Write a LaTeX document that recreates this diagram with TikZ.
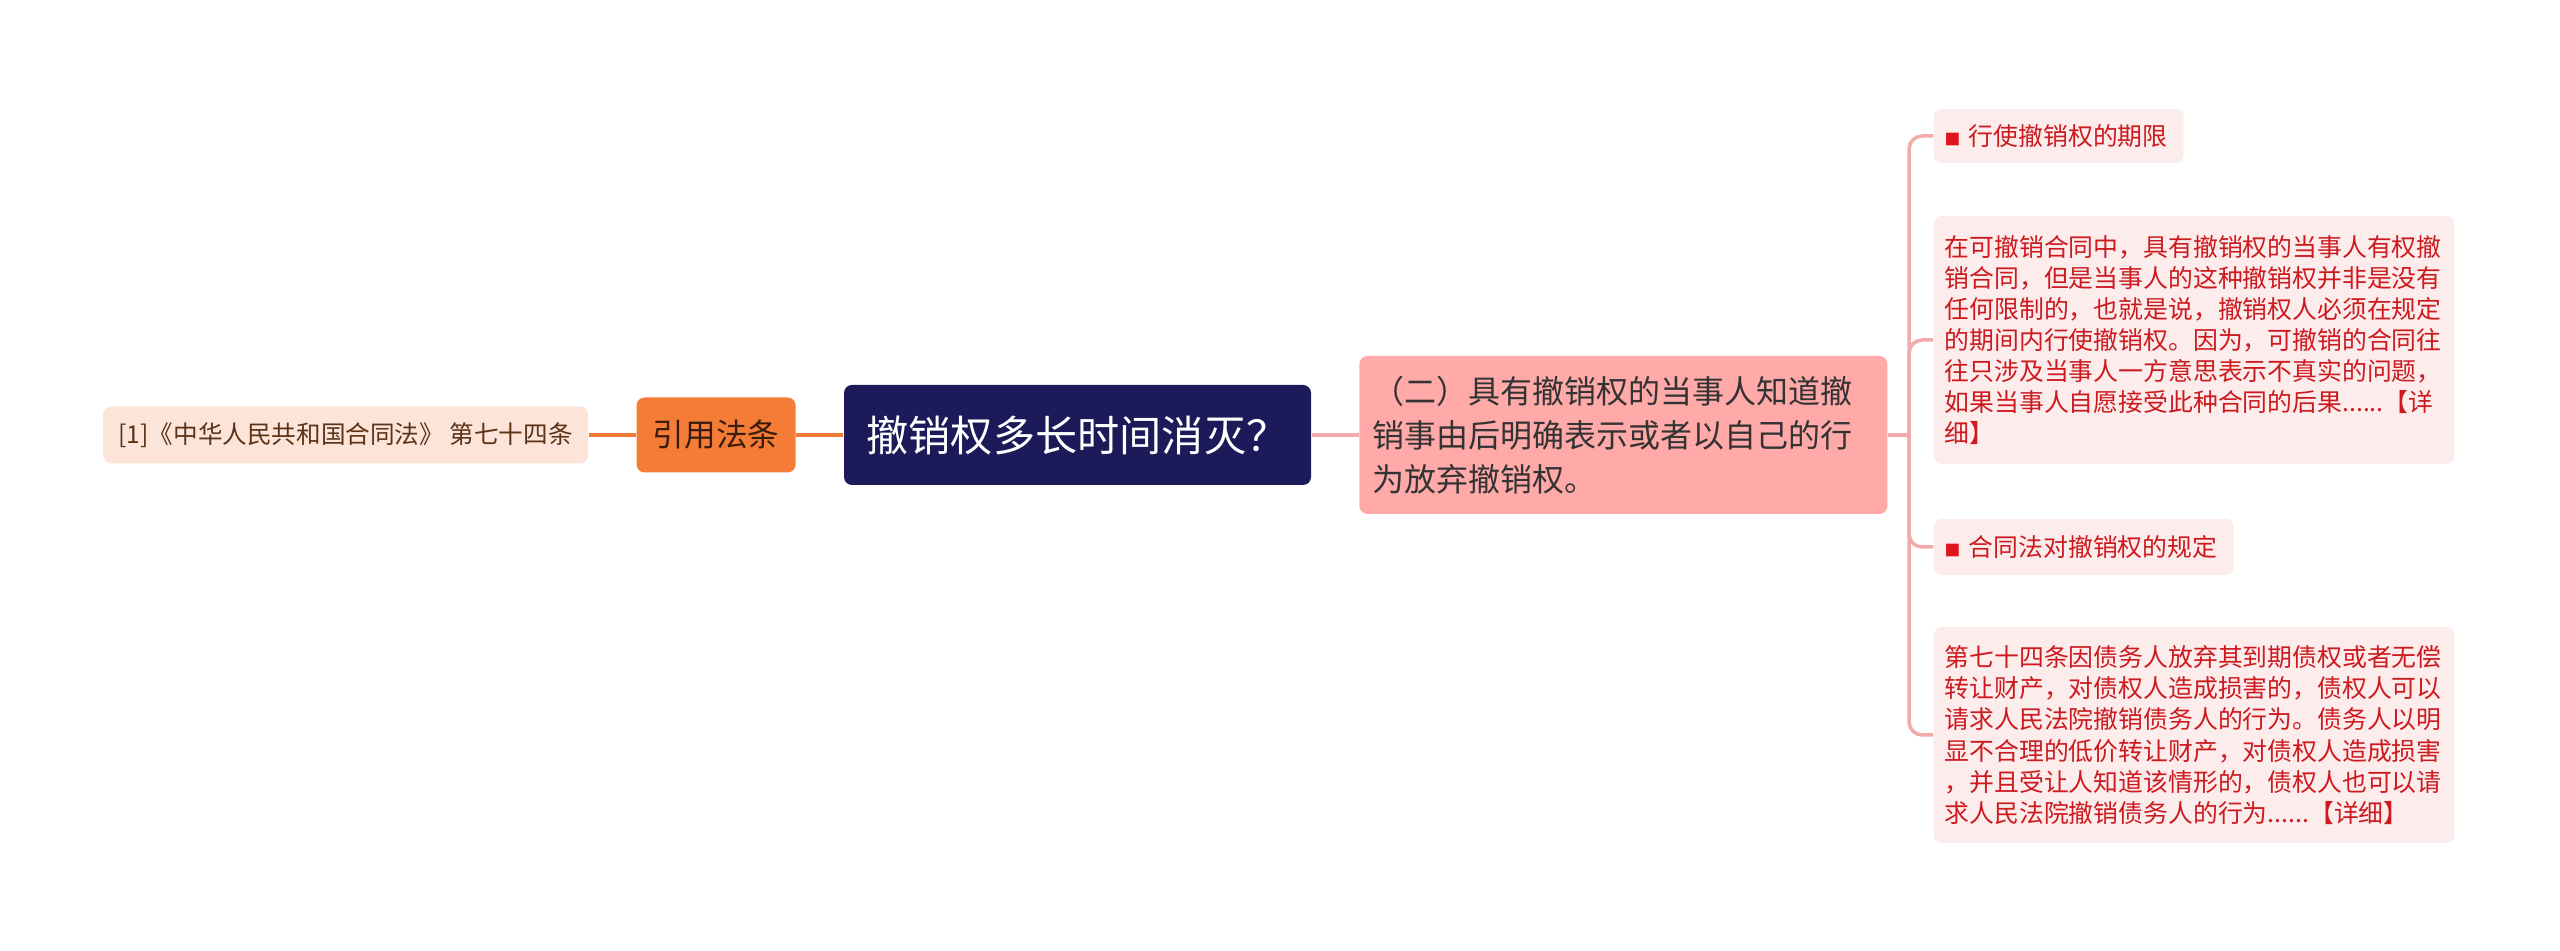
\documentclass[tikz,border=0pt]{standalone}
\usepackage{fontspec}
\newfontfamily\cjk{Noto Sans CJK SC}
\usetikzlibrary{positioning}
\definecolor{lawfill}{HTML}{FCE4D8}
\definecolor{lawtext}{HTML}{5C3317}
\definecolor{citefill}{HTML}{F57C36}
\definecolor{citetext}{HTML}{3A1C0C}
\definecolor{topicfill}{HTML}{1C1A58}
\definecolor{pointfill}{HTML}{FFA9A9}
\definecolor{pointtext}{HTML}{333333}
\definecolor{notefill}{HTML}{FDECEC}
\definecolor{notetext}{HTML}{CC1A1F}
\definecolor{bulletred}{HTML}{E0141E}
\definecolor{orangeline}{HTML}{F07A35}
\definecolor{pinkline}{HTML}{F3AAAA}

\begin{document}
\begin{tikzpicture}[node distance=4.7mm,
    box/.style={rounded corners=0.8mm, inner sep=0pt},
    lawbox/.style={box, fill=lawfill, text=lawtext, minimum width=4.85cm, minimum height=0.57cm, font=\cjk\fontsize{7}{8}\selectfont},
    citebox/.style={box, fill=citefill, text=citetext, minimum width=1.59cm, minimum height=0.75cm, font=\cjk\fontsize{9}{11}\selectfont},
    topicbox/.style={box, fill=topicfill, text=white, minimum width=4.67cm, minimum height=1.0cm, font=\cjk\fontsize{12}{14}\selectfont},
    pointbox/.style={box, fill=pointfill, text=pointtext, inner xsep=1.3mm, text width=5.02cm, align=left, minimum height=1.58cm, font=\cjk\fontsize{9.1}{12.5}\selectfont},
    notebox/.style={box, fill=notefill, text=notetext, inner xsep=1.1mm, align=left, anchor=west, font=\cjk\fontsize{7.07}{8.86}\selectfont},
    orange/.style={draw=orangeline, line width=1pt},
    pink/.style={draw=pinkline, line width=1pt}]
    \useasboundingbox (0,0) rectangle (25.6,-9.51);

    \node(topic)[topicbox] at (10.775,-4.35) {撤销权多长时间消灭？};
    \node(cite)[citebox, left=of topic] {引用法条};
    \node(law)[lawbox, left=of cite] {[1]《中华人民共和国合同法》 第七十四条};
    \node(point)[pointbox, right=of topic]
        {（二）具有撤销权的当事人知道撤\\销事由后明确表示或者以自己的行\\为放弃撤销权。};

    \node(limit)[notebox, text width=2.28cm, minimum height=0.54cm] at (19.33,-1.36)
        {{\color{bulletred}\fontsize{4.5}{5}\selectfont ■} 行使撤销权的期限};
    \node(limittext)[notebox, text width=4.99cm, minimum height=2.48cm] at (19.33,-3.40)
        {在可撤销合同中，具有撤销权的当事人有权撤\\销合同，但是当事人的这种撤销权并非是没有\\任何限制的，也就是说，撤销权人必须在规定\\的期间内行使撤销权。因为，可撤销的合同往\\往只涉及当事人一方意思表示不真实的问题，\\如果当事人自愿接受此种合同的后果......【详\\细】};
    \node(rule)[notebox, text width=2.78cm, minimum height=0.56cm] at (19.33,-5.47)
        {{\color{bulletred}\fontsize{4.5}{5}\selectfont ■} 合同法对撤销权的规定};
    \node(ruletext)[notebox, text width=4.99cm, minimum height=2.16cm] at (19.33,-7.35)
        {第七十四条因债务人放弃其到期债权或者无偿\\转让财产，对债权人造成损害的，债权人可以\\请求人民法院撤销债务人的行为。债务人以明\\显不合理的低价转让财产，对债权人造成损害\\，并且受让人知道该情形的，债权人也可以请\\求人民法院撤销债务人的行为......【详细】};

    \draw[orange] (topic) -- (cite);
    \draw[orange] (cite) -- (law);
    \draw[pink] (topic) -- (point);
    \path (point.east) ++(0.21,0) coordinate (fork);
    \draw[pink] (point.east) -- (fork);
    \foreach \n in {limit, limittext, rule, ruletext}
        \draw[pink, rounded corners=1.3mm] (fork) |- (\n.west);
\end{tikzpicture}
\end{document}
